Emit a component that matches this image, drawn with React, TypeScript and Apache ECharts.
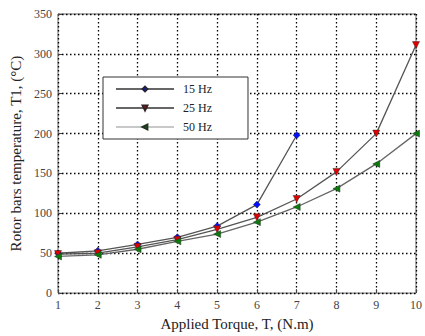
import React, { useEffect, useRef } from "react";
import * as echarts from "echarts";

const torque15 = [1, 2, 3, 4, 5, 6, 7];
const temp15 = [50, 53, 61, 70, 84, 111, 198];
const torque25 = [1, 2, 3, 4, 5, 6, 7, 8, 9, 10];
const temp25 = [49, 50, 58, 67, 80, 95, 118, 152, 200, 311];
const torque50 = [1, 2, 3, 4, 5, 6, 7, 8, 9, 10];
const temp50 = [46, 48, 55, 65, 74, 89, 108, 131, 162, 200];
const seriesNames = ["15 Hz", "25 Hz", "50 Hz"];

const pairs = (xs: number[], ys: number[]) => xs.map((x, i) => [x, ys[i]]);

const FONT = "Liberation Serif";

export default function App() {
  const ref = useRef<HTMLDivElement>(null);
  useEffect(() => {
    if (!ref.current) return;
    const chart = echarts.init(ref.current, null, { renderer: "svg" });
    const gridLine = { show: true, lineStyle: { color: "#000", type: [1.5, 2.5] as any, width: 1.3 } };
    chart.setOption({
      animation: false,
      backgroundColor: "#fff",
      grid: { left: 56, right: 7, top: 14, bottom: 37, show: true, borderColor: "#666", borderWidth: 1, backgroundColor: "transparent" },
      legend: {
        orient: "vertical",
        left: 103,
        top: 77,
        data: [
          { name: seriesNames[0], lineStyle: { color: "#333", width: 1.5 } },
          { name: seriesNames[1], lineStyle: { color: "#333", width: 1.5 } },
          { name: seriesNames[2], lineStyle: { color: "#c8c8c8", width: 2 } },
        ],
        backgroundColor: "#fff",
        borderColor: "#333",
        borderWidth: 1,
        padding: [6, 36, 6, 12],
        itemWidth: 58,
        itemHeight: 6,
        itemGap: 7,
        textStyle: { fontFamily: FONT, fontSize: 12, color: "#222", padding: [0, 0, 0, 4] },
      },
      xAxis: {
        type: "value",
        min: 1,
        max: 10,
        interval: 1,
        name: "Applied Torque, T, (N.m)",
        nameLocation: "middle",
        nameGap: 21,
        nameTextStyle: { fontFamily: FONT, fontSize: 15, color: "#222" },
        axisLine: { show: false },
        axisTick: { show: true, inside: true, length: 4, lineStyle: { color: "#444" } },
        axisLabel: { fontFamily: FONT, fontSize: 12, color: "#444", margin: 6 },
        splitLine: gridLine,
      },
      yAxis: {
        type: "value",
        min: 0,
        max: 350,
        interval: 50,
        name: "Rotor bars temperature, T1, (°C)",
        nameLocation: "middle",
        nameGap: 35,
        nameTextStyle: { fontFamily: FONT, fontSize: 15, color: "#222" },
        axisLine: { show: false },
        axisTick: { show: true, inside: true, length: 4, lineStyle: { color: "#444" } },
        axisLabel: { fontFamily: FONT, fontSize: 12, color: "#444", margin: 6 },
        splitLine: gridLine,
      },
      series: [
        {
          name: seriesNames[0],
          type: "line",
          data: pairs(torque15, temp15),
          symbol: "diamond",
          symbolSize: 7,
          lineStyle: { color: "#555", width: 1.3 },
          itemStyle: { color: "#0010ff", borderColor: "#223", borderWidth: 0.5 },
        },
        {
          name: seriesNames[1],
          type: "line",
          data: pairs(torque25, temp25),
          symbol: "triangle",
          symbolRotate: 180,
          symbolSize: 7,
          lineStyle: { color: "#555", width: 1.3 },
          itemStyle: { color: "#e00000", borderColor: "#322", borderWidth: 0.5 },
        },
        {
          name: seriesNames[2],
          type: "line",
          data: pairs(torque50, temp50),
          symbol: "triangle",
          symbolRotate: 90,
          symbolSize: 7,
          lineStyle: { color: "#666", width: 1.3 },
          itemStyle: { color: "#0a7a0a", borderColor: "#232", borderWidth: 0.5 },
        },
      ],
    });
    return () => chart.dispose();
  }, []);
  return <div ref={ref} style={{ width: 425, height: 336, position: "absolute", left: 0, top: 0 }} />;
}
